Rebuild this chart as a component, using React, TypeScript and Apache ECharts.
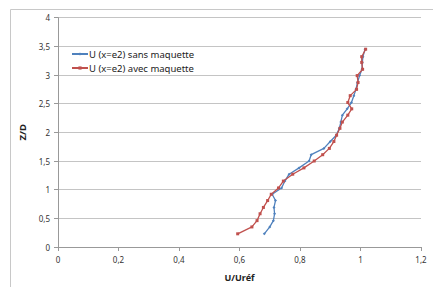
import React, { useEffect, useRef } from "react";
import * as echarts from "echarts";

const zLevels = [0.23, 0.35, 0.46, 0.58, 0.69, 0.81, 0.92, 1.03, 1.15, 1.27, 1.38, 1.5, 1.61, 1.72, 1.84, 1.95, 2.07, 2.18, 2.3, 2.41, 2.52, 2.64, 2.75, 2.87, 2.99, 3.1, 3.22, 3.32, 3.45];
const uSans = [0.682, 0.7, 0.712, 0.716, 0.714, 0.719, 0.708, 0.739, 0.75, 0.764, 0.797, 0.83, 0.837, 0.879, 0.9, 0.92, 0.93, 0.935, 0.94, 0.956, 0.97, 0.978, 0.985, 0.99, 0.997, 1.005, 1.006, 1.008, 1.015];
const uAvec = [0.594, 0.641, 0.658, 0.668, 0.679, 0.693, 0.705, 0.729, 0.745, 0.776, 0.813, 0.847, 0.875, 0.897, 0.912, 0.921, 0.932, 0.94, 0.958, 0.971, 0.958, 0.966, 0.987, 0.992, 0.989, 1.007, 1.004, 1.004, 1.017];
const seriesNames = ["U (x=e2) sans maquette", "U (x=e2) avec maquette"];
const xTitle = "U/Uréf";
const yTitle = "Z/D";

const fmt = (v: number) => String(Math.round(v * 10) / 10).replace(".", ",");

export default function App() {
  const ref = useRef<HTMLDivElement>(null);
  useEffect(() => {
    const chart = echarts.init(ref.current!, null, { renderer: "svg" });
    const font = "'Noto Sans', 'Open Sans', sans-serif";
    chart.setOption({
      animation: false,
      backgroundColor: "#fff",
      textStyle: { fontFamily: font },
      graphic: [
        {
          type: "rect",
          shape: { x: 10.5, y: 9.5, width: 440, height: 300 },
          style: { fill: "none", stroke: "#c8c8c8", lineWidth: 1 },
          silent: true,
        },
      ],
      grid: { left: 58, top: 17.7, right: 12, bottom: 39.3, containLabel: false },
      legend: {
        orient: "vertical",
        left: 66,
        top: 44,
        itemWidth: 16,
        itemHeight: 4,
        itemGap: 4,
        textStyle: { fontSize: 9.5, color: "#222", fontFamily: font, padding: [0, 0, 0, -4] },
        data: seriesNames,
      },
      xAxis: {
        type: "value",
        min: 0,
        max: 1.2,
        interval: 0.2,
        name: xTitle,
        nameLocation: "middle",
        nameGap: 26,
        nameTextStyle: { fontSize: 9, fontWeight: "bold", color: "#222" },
        axisLine: { show: true, lineStyle: { color: "#999" } },
        axisTick: { show: true, length: 4, lineStyle: { color: "#999" } },
        axisLabel: { fontSize: 8, color: "#333", formatter: fmt, margin: 8 },
        splitLine: { show: false },
      },
      yAxis: {
        type: "value",
        min: 0,
        max: 4,
        interval: 0.5,
        name: yTitle,
        nameLocation: "middle",
        nameGap: 30,
        nameTextStyle: { fontSize: 9.5, fontWeight: "bold", color: "#222" },
        axisLine: { show: true, lineStyle: { color: "#999" } },
        axisTick: { show: true, length: 4, lineStyle: { color: "#999" } },
        axisLabel: { fontSize: 8, color: "#333", formatter: fmt, margin: 8 },
        splitLine: { show: true, lineStyle: { color: "#c4c4c4", width: 1 } },
      },
      series: [
        {
          name: seriesNames[0],
          type: "line",
          data: uSans.map((u, i) => [u, zLevels[i]]),
          color: "#4F81BD",
          lineStyle: { width: 1.3, color: "#4F81BD" },
          symbol: "diamond",
          symbolSize: 3,
          itemStyle: { color: "#4F81BD" },
        },
        {
          name: seriesNames[1],
          type: "line",
          data: uAvec.map((u, i) => [u, zLevels[i]]),
          color: "#C0504D",
          lineStyle: { width: 1.3, color: "#C0504D" },
          symbol: "rect",
          symbolSize: 3,
          itemStyle: { color: "#C0504D" },
        },
      ],
    });
    return () => chart.dispose();
  }, []);
  return <div ref={ref} style={{ position: "fixed", left: 0, top: 0, width: 433, height: 287 }} />;
}
